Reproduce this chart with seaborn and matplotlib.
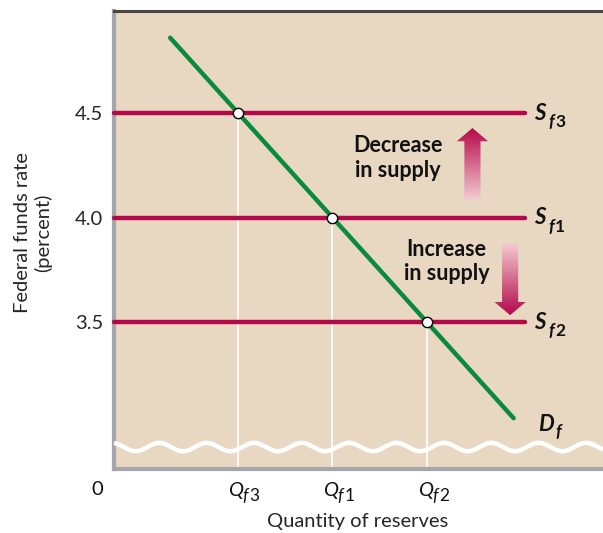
import numpy as np
import pandas as pd
import matplotlib
matplotlib.use("Agg")
import matplotlib.pyplot as plt
import seaborn as sns
from matplotlib.patches import Polygon

# ---- data ----
rates = [4.5, 4.0, 3.5]                     # federal funds rate levels (Sf3, Sf1, Sf2)
supply_names = ["f3", "f1", "f2"]
quantities = [1.0, 2.0, 3.0]                # Qf3, Qf1, Qf2 (equilibrium quantities)
q_subs = ["f3", "f1", "f2"]
demand_x = [0.29, 3.91]
demand_y = [4.86, 3.04]
supply_x = [-0.30, 4.03]
ytick_vals = [3.5, 4.0, 4.5]
ytick_labels = ["3.5", "4.0", "4.5"]

BG = "#E8D8C2"
RED = "#B3094A"
GREEN = "#0A8A3C"
FONT = "Lato"
FS = 14.5
INK = "#111111"

sns.set_theme(style="white")
plt.rcParams["font.family"] = [FONT, "DejaVu Sans"]

fig = plt.figure(figsize=(6.03, 5.33), dpi=100)
W, H = 603, 533
ax = fig.add_axes([114 / W, (H - 469) / H, (W - 114) / W, (469 - 11) / H])
ax.set_facecolor(BG)
xmin, xmax = -0.302, 4.852
ymin, ymax = 2.797, 4.988
ax.set_xlim(xmin, xmax)
ax.set_ylim(ymin, ymax)

# vertical guide lines
for q, r in zip(quantities, rates):
    ax.plot([q, q], [ymin, r], color="white", lw=1.2, zorder=2)

# supply lines
sup_df = pd.DataFrame({
    "x": [supply_x[0], supply_x[1]] * 3,
    "y": [r for r in rates for _ in range(2)],
    "s": [s for s in supply_names for _ in range(2)],
})
sns.lineplot(data=sup_df, x="x", y="y", units="s", estimator=None, color=RED,
             lw=3.2, ax=ax, zorder=3, clip_on=False)

# demand line
dem_df = pd.DataFrame({"x": demand_x, "y": demand_y})
sns.lineplot(data=dem_df, x="x", y="y", color=GREEN, lw=3.2, ax=ax, zorder=4)

# equilibrium points
pts = pd.DataFrame({"x": quantities, "y": rates})
sns.scatterplot(data=pts, x="x", y="y", s=55, color="white", edgecolor="black",
                linewidth=1.0, ax=ax, zorder=5)

# break wave
wx = np.linspace(xmin, xmax, 600)
wy = 2.902 + 0.02 * np.sin(2 * np.pi * (wx - 0.05) / 0.5)
ax.plot(wx, wy, color="white", lw=3.2, zorder=6, clip_on=False, solid_capstyle="butt")

# gradient arrows
def grad_arrow(xc, y_tail, y_tip, y_headbase, shaft_hw, head_hw, up=True):
    poly = [(xc - shaft_hw, y_tail), (xc - shaft_hw, y_headbase), (xc - head_hw, y_headbase),
            (xc, y_tip), (xc + head_hw, y_headbase), (xc + shaft_hw, y_headbase),
            (xc + shaft_hw, y_tail)]
    patch = Polygon(poly, closed=True, facecolor="none", edgecolor="none", transform=ax.transData)
    ax.add_patch(patch)
    n = 200
    t = np.linspace(0, 1, n)
    light = np.array(matplotlib.colors.to_rgb("#F4CCD3"))
    dark = np.array(matplotlib.colors.to_rgb(RED))
    cols = light[None, :] * (1 - t[:, None]) + dark[None, :] * t[:, None]  # tail->tip
    img = cols[:, None, :]
    lo, hi = min(y_tail, y_tip), max(y_tail, y_tip)
    im = ax.imshow(img, extent=[xc - head_hw, xc + head_hw, lo, hi],
                   origin="lower" if up else "upper", aspect="auto", zorder=4)
    im.set_clip_path(patch)

grad_arrow(3.476, 4.086, 4.428, 4.365, 0.085, 0.165, up=True)
grad_arrow(3.873, 3.876, 3.533, 3.596, 0.085, 0.165, up=False)
ax.set_xlim(xmin, xmax)
ax.set_ylim(ymin, ymax)

# annotations
ax.text(2.693, 4.285, "Decrease\nin supply", ha="center", va="center", fontsize=15.5,
        fontweight="bold", color=INK, linespacing=1.2)
ax.text(3.201, 3.79, "Increase\nin supply", ha="center", va="center", fontsize=15.5,
        fontweight="bold", color=INK, linespacing=1.2)

for r, s in zip(rates, supply_names):
    ax.text(4.12, r, "S", ha="left", va="center", fontsize=16, fontweight="bold",
            fontstyle="italic", color=INK)
    ax.annotate(s[0], xy=(4.12, r), xytext=(10.5, -6.5), textcoords="offset points",
                ha="left", va="center", fontsize=12.5, fontweight="bold",
                fontstyle="italic", color=INK)
    ax.annotate(s[1], xy=(4.12, r), xytext=(15.5, -6.5), textcoords="offset points",
                ha="left", va="center", fontsize=12.5, fontweight="bold", color=INK)
ax.text(4.17, 3.012, "D", ha="left", va="center", fontsize=16, fontweight="bold",
        fontstyle="italic", color=INK)
ax.annotate("f", xy=(4.17, 3.012), xytext=(12.5, -6), textcoords="offset points",
            ha="left", va="center", fontsize=12.5, fontweight="bold",
            fontstyle="italic", color=INK)

# axes styling
ax.set_yticks(ytick_vals)
ax.set_yticklabels(ytick_labels, fontsize=FS)
ax.set_xticks(quantities)
ax.set_xticklabels([""] * len(quantities))
ax.tick_params(axis="y", length=0, pad=8)
ax.tick_params(axis="x", length=0, pad=8)
ax.set_xlabel("")
ax.set_ylabel("")

# Q tick labels built from pieces (italic Q and f, upright digit)
for q, sub in zip(quantities, q_subs):
    ax.annotate("Q", xy=(q, ymin), xytext=(-6.8, -15.5), textcoords="offset points",
                ha="left", va="center", fontsize=FS, fontstyle="italic", color=INK,
                annotation_clip=False)
    ax.annotate(sub[0], xy=(q, ymin), xytext=(3.4, -19.5), textcoords="offset points",
                ha="left", va="center", fontsize=12.5, fontstyle="italic", color=INK,
                annotation_clip=False)
    ax.annotate(sub[1], xy=(q, ymin), xytext=(8.6, -19.5), textcoords="offset points",
                ha="left", va="center", fontsize=12.5, color=INK,
                annotation_clip=False)

ax.text(-0.48, ymin - 0.1, "0", ha="center", va="center", fontsize=FS, color=INK,
        clip_on=False)

ax.spines["right"].set_visible(False)
ax.spines["left"].set_color("#A6A6AA")
ax.spines["left"].set_linewidth(3.0)
ax.spines["bottom"].set_color("#A6A6AA")
ax.spines["bottom"].set_linewidth(3.0)
ax.spines["top"].set_color("#4A4541")
ax.spines["top"].set_linewidth(2.2)

fig.text(358 / W, 1 - 522 / H, "Quantity of reserves", ha="center", va="center", fontsize=FS)
fig.text(33 / W, 1 - 233 / H, "Federal funds rate\n(percent)", ha="center", va="center",
         rotation=90, fontsize=FS, linespacing=1.15)

fig.savefig("out.png", dpi=100, facecolor="white")
